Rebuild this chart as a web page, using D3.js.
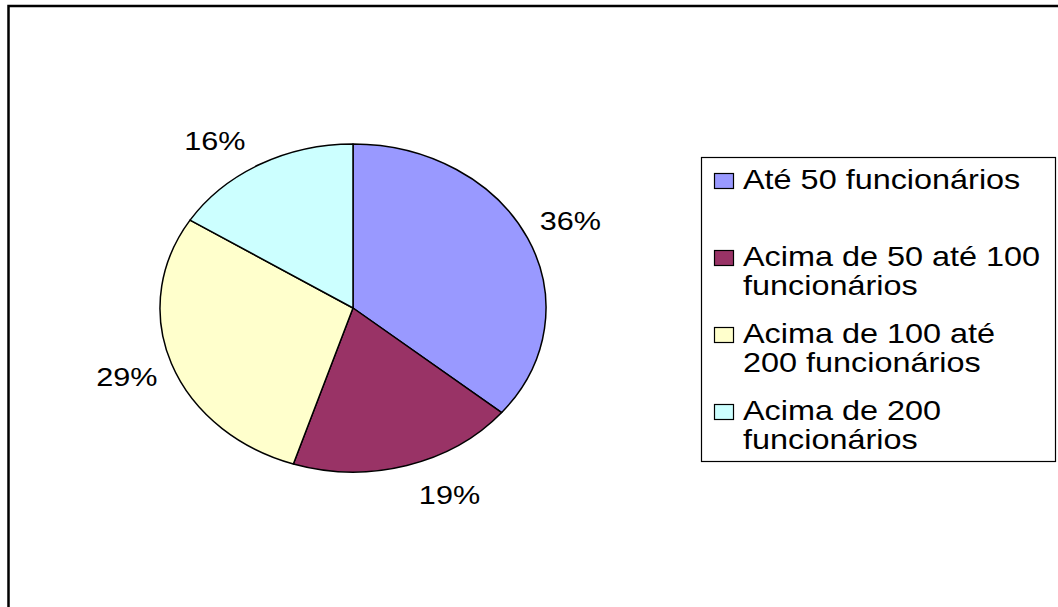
<!DOCTYPE html>
<html>
<head>
<meta charset="utf-8">
<script src="https://cdn.jsdelivr.net/npm/d3@7"></script>
<style>
  html, body { margin: 0; padding: 0; background: #fff; }
  svg { display: block; font-family: Arial, "Liberation Sans", sans-serif; }
</style>
</head>
<body>
<svg id="chart" width="1058" height="607"></svg>
<script>
// data
const categories = ["Até 50 funcionários", "Acima de 50 até 100 funcionários",
  "Acima de 100 até 200 funcionários", "Acima de 200 funcionários"];
const legendLines = [
  ["Até 50 funcionários"],
  ["Acima de 50 até 100", "funcionários"],
  ["Acima de 100 até", "200 funcionários"],
  ["Acima de 200", "funcionários"]
];
const values = [36, 19, 29, 16];
const colors = ["#9999FF", "#993366", "#FFFFCC", "#CCFFFF"];

// layout
let width = 1058, height = 607;
let cx = 353, cy = 308;
let ry = 164, rx = 193;
let sx = rx / ry;          // the whole picture is stretched horizontally
let textStretch = 1.2;
let labelR = ry * 1.245;
// labels are kept inside the plot area (they slide along their circle)
let plotTop = 127, plotBottom = 509, labelHalfH = 14;

let svg = d3.select('#chart');

// outer frame (only top and left edges are in view)
svg.append('path')
  .attr('d', 'M8.5,' + height + ' V6 H' + width)
  .attr('fill', 'none')
  .attr('stroke', '#000')
  .attr('stroke-width', 2.5);

let pie = d3.pie().sort(null).value(d => d);
let arcs = pie(values);
let arc = d3.arc().innerRadius(0).outerRadius(ry);

let g = svg.append('g')
  .attr('transform', 'translate(' + cx + ',' + cy + ') scale(' + sx + ',1)');

g.selectAll('path')
  .data(arcs)
  .enter().append('path')
  .attr('d', arc)
  .attr('fill', (d, i) => colors[i])
  .attr('stroke', '#000')
  .attr('stroke-width', 1.5)
  .attr('stroke-linejoin', 'round')
  .attr('vector-effect', 'non-scaling-stroke');

function labelPos(d) {
  let a = (d.startAngle + d.endAngle) / 2;
  let y = cy - labelR * Math.cos(a);
  let minY = plotTop + labelHalfH, maxY = plotBottom - labelHalfH;
  if (y < minY || y > maxY) {
    let lim = y < minY ? (cy - minY) / labelR : (maxY - cy) / labelR;
    let off = Math.acos(Math.min(1, lim));
    if (y < minY) {
      a = a > Math.PI ? 2 * Math.PI - off : off;
    } else {
      a = a > Math.PI ? Math.PI + off : Math.PI - off;
    }
  }
  return [cx + labelR * Math.sin(a) * sx, cy - labelR * Math.cos(a)];
}

// percentage labels
svg.selectAll('text.pct')
  .data(arcs)
  .enter().append('text')
  .attr('class', 'pct')
  .attr('transform', d => {
    let p = labelPos(d);
    return 'translate(' + p[0] + ',' + p[1] + ') scale(' + textStretch + ',1)';
  })
  .attr('text-anchor', 'middle')
  .attr('dy', '0.36em')
  .attr('font-size', 25.5)
  .attr('fill', '#000')
  .text(d => d.data + '%');

// legend
let legendX = 701.5, legendY = 157.5, legendW = 354, legendH = 304;
svg.append('rect')
  .attr('x', legendX).attr('y', legendY)
  .attr('width', legendW).attr('height', legendH)
  .attr('fill', '#fff')
  .attr('stroke', '#000')
  .attr('stroke-width', 1.2);

let itemStep = 77, firstTop = 173, lineH = 29;
let items = svg.selectAll('g.item')
  .data(legendLines)
  .enter().append('g')
  .attr('class', 'item')
  .attr('transform', (d, i) => 'translate(0,' + (firstTop + i * itemStep) + ')');

items.append('rect')
  .attr('x', 714.5).attr('y', 0.5)
  .attr('width', 19).attr('height', 15)
  .attr('fill', (d, i) => colors[i])
  .attr('stroke', '#000')
  .attr('stroke-width', 1.2);

items.each(function(lines) {
  let it = d3.select(this);
  lines.forEach((t, j) => {
    it.append('text')
      .attr('transform', 'translate(743,' + (16 + j * lineH) + ') scale(' + textStretch + ',1)')
      .attr('font-size', 27)
      .attr('fill', '#000')
      .text(t);
  });
});
</script>
</body>
</html>
